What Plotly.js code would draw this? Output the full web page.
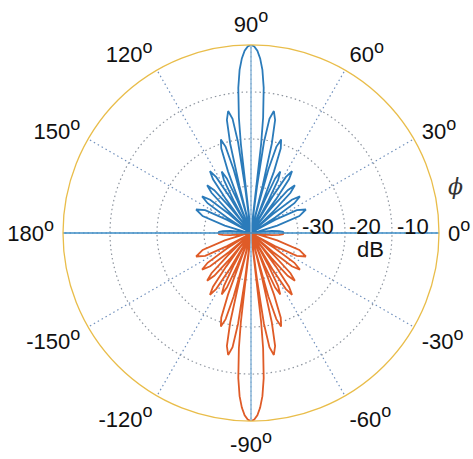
<!DOCTYPE html>
<html><head><meta charset="utf-8">
<script src="https://cdn.plot.ly/plotly-3.0.1.min.js"></script>
<style>html,body{margin:0;padding:0;background:#fff}#chart{width:473px;height:459px}</style>
</head><body><div id="chart"></div>
<script>
// Right half of the upper pattern (phi from 0 to 90 deg), gain in dB
const lobeAnglesDeg = [0, 2, 4, 6, 8, 11.36,
  12.2, 15.85, 19.33, 23.19, 26.54, 28.81, 30.2, 30.93,
  31.7, 32.69, 34.45, 36.80, 39.15, 40.91, 41.9, 42.67,
  43.3, 44.10, 45.53, 47.44, 49.35, 50.78, 51.6, 52.21,
  52.7, 53.48, 54.74, 56.43, 58.12, 59.38, 60.1, 60.65,
  61.1, 61.82, 62.98, 64.54, 66.10, 67.26, 67.95, 68.43,
  68.80, 69.54, 70.64, 72.12, 73.60, 74.70, 75.44, 75.81,
  76.17, 76.88, 77.96, 79.39, 80.82, 81.89, 82.60, 82.96,
  83.5, 84, 85, 86, 87, 88, 89, 90];
const lobeGainDb = [-33.0, -33.2, -34.0, -35.6, -38.6, -40,
  -38.5, -34.2, -29.1, -27.3, -29.1, -34.2, -38.5, -40,
  -38.0, -33.9, -28.8, -27.0, -28.8, -33.9, -38.0, -40,
  -37.5, -33.1, -28.0, -26.2, -28.0, -33.1, -37.5, -40,
  -36.5, -31.1, -26.0, -24.2, -26.0, -31.1, -36.5, -40,
  -37.5, -32.4, -27.3, -25.5, -27.3, -32.4, -37.5, -40,
  -35.2, -26.0, -20.9, -19.1, -20.9, -26.0, -35.2, -40,
  -29.7, -20.5, -15.4, -13.6, -15.4, -20.5, -29.7, -40,
  -21, -15.3, -9.0, -5.2, -2.8, -1.2, -0.3, 0];

const angleTickVals = [0, 30, 60, 90, 120, 150, 180, 210, 240, 270, 300, 330];
const angleTickLabels = ['0', '30', '60', '90', '120', '150', '180', '-150', '-120', '-90', '-60', '-30'];
const radialTickVals = [-30, -20, -10];
const radialTickLabels = ['-30', '-20', '-10'];
const radialRange = [-40, 0];

// upper half (blue): right side + mirrored left side; lower half (orange): mirror of upper
const upperTheta = lobeAnglesDeg.concat(lobeAnglesDeg.slice(0, -1).reverse().map(a => 180 - a));
const upperR = lobeGainDb.concat(lobeGainDb.slice(0, -1).reverse());
const lowerTheta = upperTheta.map(a => -a);
const lowerR = upperR.slice();

const FONT = 'Liberation Sans, Arial, Helvetica, sans-serif';
const traces = [
  {type: 'scatterpolar', mode: 'lines', theta: upperTheta, r: upperR,
   line: {color: '#2b7bba', width: 1.8}, hoverinfo: 'skip'},
  {type: 'scatterpolar', mode: 'lines', theta: lowerTheta, r: lowerR,
   line: {color: '#df5b27', width: 1.8}, hoverinfo: 'skip'},
  {type: 'scatterpolar', mode: 'lines', theta: [90, 270], r: [radialRange[1], radialRange[1]],
   line: {color: '#8cb7d8', width: 1.5}, hoverinfo: 'skip'},
  {type: 'scatterpolar', mode: 'lines', theta: [180, 0], r: [radialRange[1], radialRange[1]],
   line: {color: '#3d8cc4', width: 1.6}, hoverinfo: 'skip'}
];

// plot area: left 63, right 439, top 45, bottom 421
const px = x => (x - 63) / 376;
const py = y => (421 - y) / 376;
const ringLabelLeft = [300, 347, 395];
const annotations = radialTickLabels.map((t, i) => ({
  text: t, xref: 'paper', yref: 'paper', x: px(ringLabelLeft[i]), y: py(226),
  xanchor: 'left', yanchor: 'middle', showarrow: false,
  font: {family: FONT, size: 22, color: '#111'}
}));
annotations.push({text: 'dB', xref: 'paper', yref: 'paper', x: px(370), y: py(249),
  xanchor: 'center', yanchor: 'middle', showarrow: false,
  font: {family: FONT, size: 22, color: '#111'}});
annotations.push({text: '<i>ϕ</i>', xref: 'paper', yref: 'paper', x: px(455), y: py(186),
  xanchor: 'center', yanchor: 'middle', showarrow: false,
  font: {family: 'DejaVu Serif, Liberation Serif, serif', size: 22, color: '#333'}});

const layout = {
  width: 473, height: 459,
  margin: {l: 63, r: 34, t: 45, b: 38, pad: 0},
  paper_bgcolor: '#fff', showlegend: false,
  polar: {
    domain: {x: [0, 1], y: [0, 1]},
    bgcolor: '#fff',
    radialaxis: {range: radialRange, tickvals: radialTickVals, ticktext: radialTickLabels,
      showticklabels: false, ticks: '', showline: false,
      showgrid: true, gridcolor: '#8d949e', griddash: '1.5px,3px', gridwidth: 1.2},
    angularaxis: {tickvals: angleTickVals,
      ticktext: angleTickLabels.map(t => t + '<sup><span style="font-size:18px">o</span></sup>'),
      direction: 'counterclockwise', rotation: 0,
      showline: true, linecolor: '#e9bd4a', linewidth: 1.3,
      showgrid: true, gridcolor: '#6f8fbc', griddash: '1.5px,3px', gridwidth: 1.2,
      ticks: 'outside', ticklen: 4, tickcolor: 'rgba(0,0,0,0)',
      tickfont: {family: FONT, size: 22, color: '#111'}}
  },
  annotations: annotations
};
Plotly.newPlot('chart', traces, layout, {displayModeBar: false, staticPlot: true});
</script></body></html>
